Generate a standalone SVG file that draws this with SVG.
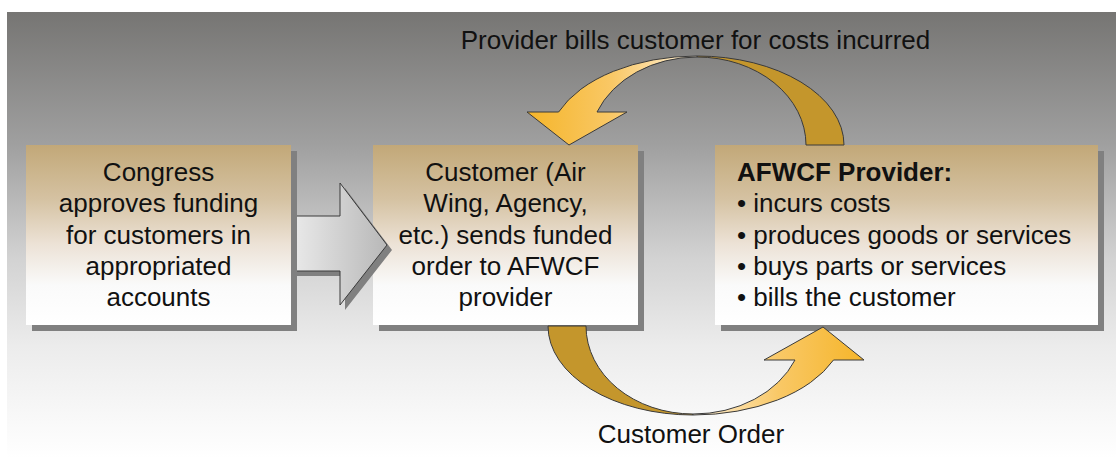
<svg xmlns="http://www.w3.org/2000/svg" width="1116" height="458" viewBox="0 0 1116 458">
  <defs>
    <linearGradient id="bg" x1="0" y1="0" x2="0" y2="1">
      <stop offset="0" stop-color="#767573"/>
      <stop offset="0.3" stop-color="#a0a0a0"/>
      <stop offset="0.55" stop-color="#d2d2d2"/>
      <stop offset="0.75" stop-color="#ececec"/>
      <stop offset="1" stop-color="#ffffff"/>
    </linearGradient>
    <linearGradient id="boxfill" x1="0" y1="0" x2="0" y2="1">
      <stop offset="0" stop-color="#c2a878"/>
      <stop offset="0.3" stop-color="#d5c2a2"/>
      <stop offset="0.55" stop-color="#ece2d6"/>
      <stop offset="0.78" stop-color="#fafafa"/>
      <stop offset="1" stop-color="#ffffff"/>
    </linearGradient>
    <linearGradient id="grayArrow" gradientUnits="userSpaceOnUse" x1="290" y1="0" x2="387" y2="0">
      <stop offset="0" stop-color="#ebebeb"/>
      <stop offset="1" stop-color="#b8b8b8"/>
    </linearGradient>
    <linearGradient id="topGrad" gradientUnits="userSpaceOnUse" x1="697" y1="0" x2="527" y2="0">
      <stop offset="0" stop-color="#fff2dc"/>
      <stop offset="0.5" stop-color="#f9c866"/>
      <stop offset="1" stop-color="#f5b52a"/>
    </linearGradient>
    <linearGradient id="botGrad" gradientUnits="userSpaceOnUse" x1="693" y1="0" x2="864" y2="0">
      <stop offset="0" stop-color="#fff2dc"/>
      <stop offset="0.5" stop-color="#f9c866"/>
      <stop offset="1" stop-color="#f5b52a"/>
    </linearGradient>
    <style>
      .shadow { fill: #808080; }
      .box { fill: url(#boxfill); }
      .t { font-family: "Liberation Sans", Arial, sans-serif; font-size: 26px; fill: #111111; }
      .c { text-anchor: middle; }
      .b { font-weight: bold; }
      .arrow { stroke: #3a3a3a; stroke-width: 1; stroke-linejoin: miter; }
      .gold { fill: #c4962c; }
    </style>
  </defs>

  <rect x="7" y="12" width="1109" height="446" fill="url(#bg)"/>

  <g id="node-customer">
    <rect class="shadow" x="379" y="151" width="265" height="180"/>
    <rect class="box" x="373" y="145" width="265" height="180"/>
    <text class="t c" x="505.5" y="181">Customer (Air</text>
    <text class="t c" x="505.5" y="212">Wing, Agency,</text>
    <text class="t c" x="505.5" y="244">etc.) sends funded</text>
    <text class="t c" x="505.5" y="275">order to AFWCF</text>
    <text class="t c" x="505.5" y="306">provider</text>
  </g>

  <g id="connectors">
    <g id="edge-congress-customer">
      <polygon class="shadow" points="295,221 345,221 345,188 392,250 345,310 345,276 295,276"/>
      <polygon class="arrow" fill="url(#grayArrow)" points="290,216 340,216 340,183 387,245 340,305 340,271 290,271"/>
    </g>
  </g>

  <g id="node-congress">
    <rect class="shadow" x="32" y="151" width="265" height="180"/>
    <rect class="box" x="26" y="145" width="265" height="180"/>
    <text class="t c" x="158.5" y="181">Congress</text>
    <text class="t c" x="158.5" y="212">approves funding</text>
    <text class="t c" x="158.5" y="244">for customers in</text>
    <text class="t c" x="158.5" y="275">appropriated</text>
    <text class="t c" x="158.5" y="306">accounts</text>
  </g>

  <g id="node-provider">
    <rect class="shadow" x="721" y="151" width="383" height="180"/>
    <rect class="box" x="715" y="145" width="383" height="180"/>
    <text class="t b" x="737" y="181">AFWCF Provider:</text>
    <text class="t" x="737" y="212">• incurs costs</text>
    <text class="t" x="737" y="244">• produces goods or services</text>
    <text class="t" x="737" y="275">• buys parts or services</text>
    <text class="t" x="737" y="306">• bills the customer</text>
  </g>

  <g id="connectors-curved">
    <g id="edge-provider-customer">
      <path class="arrow gold" d="M 806 145 A 109 88 0 0 0 697 57 L 697 56 A 147 89 0 0 1 844 145 Z"/>
      <path class="arrow" fill="url(#topGrad)" d="M 697 56 A 149 89 0 0 0 558.6 112 L 527 112 L 569 145 L 627 112 L 597 112 A 108 88 0 0 1 697 57 Z"/>
      <text class="t c" x="695.5" y="49">Provider bills customer for costs incurred</text>
    </g>
    <g id="edge-customer-provider">
      <path class="arrow gold" d="M 548 326 A 145 89 0 0 0 693 415 L 693 414 A 107 88 0 0 1 586 326 Z"/>
      <path class="arrow" fill="url(#botGrad)" d="M 693 415 A 152 89 0 0 0 833.5 360 L 864 360 L 823 327 L 764 360 L 795 360 A 110 88 0 0 1 693 414 Z"/>
      <text class="t c" x="691" y="443">Customer Order</text>
    </g>
  </g>
</svg>
